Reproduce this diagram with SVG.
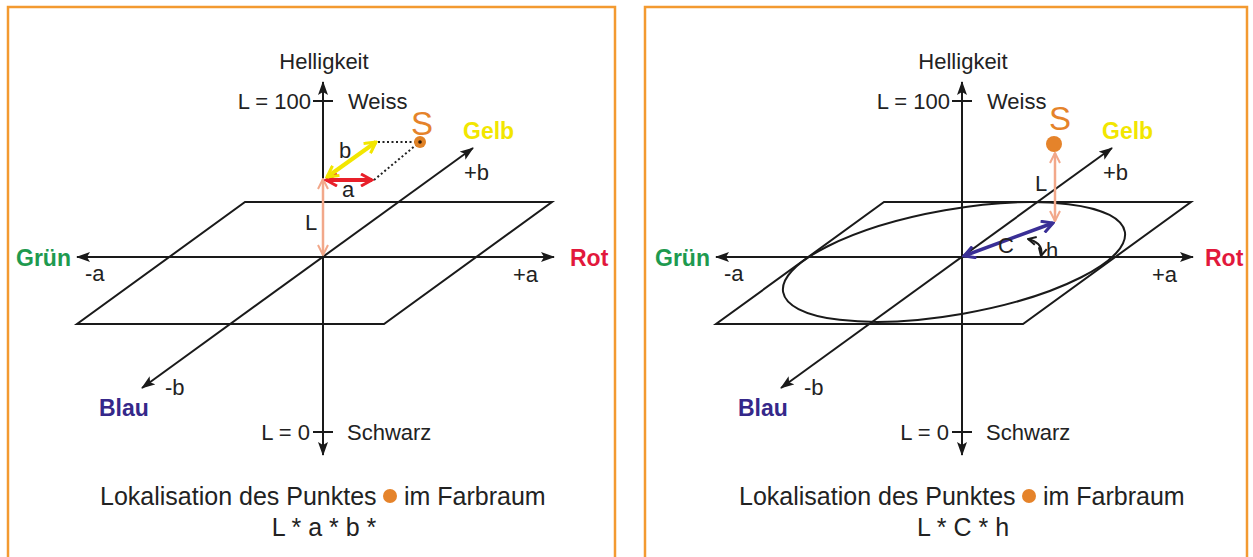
<svg xmlns="http://www.w3.org/2000/svg" width="1253" height="557" viewBox="0 0 1253 557">
<style>
.frame{fill:none;stroke:#f39a30;stroke-width:2.5}
.ax{fill:none;stroke:#1a1a1a;stroke-width:2}
.t{font-family:"Liberation Sans",Arial,sans-serif;font-size:22px;fill:#222}
.tb{font-family:"Liberation Sans",Arial,sans-serif;font-size:23px;font-weight:bold}
.cap{font-family:"Liberation Sans",Arial,sans-serif;font-size:25px;fill:#222}
.s{font-family:"Liberation Sans",Arial,sans-serif;font-size:33px;fill:#e5832a}
</style>
<defs>
<marker id="ah" viewBox="0 0 14 10" refX="13" refY="5" markerWidth="14" markerHeight="10" markerUnits="userSpaceOnUse" orient="auto-start-reverse"><path d="M0,0 L14,5 L0,10 L3,5 z" fill="#1a1a1a"/></marker>
<marker id="pk" viewBox="0 0 12 12" refX="11" refY="6" markerWidth="12" markerHeight="12" markerUnits="userSpaceOnUse" orient="auto-start-reverse"><path d="M1,1 L11,6 L1,11" fill="none" stroke="#f2a88a" stroke-width="2"/></marker>
<marker id="rd" viewBox="0 0 14 14" refX="12" refY="7" markerWidth="14" markerHeight="14" markerUnits="userSpaceOnUse" orient="auto-start-reverse"><path d="M1,1 L12,7 L1,13" fill="none" stroke="#e8202a" stroke-width="3"/></marker>
<marker id="yl" viewBox="0 0 14 14" refX="12" refY="7" markerWidth="14" markerHeight="14" markerUnits="userSpaceOnUse" orient="auto-start-reverse"><path d="M1,1 L12,7 L1,13" fill="none" stroke="#f2e600" stroke-width="3"/></marker>
<marker id="bl" viewBox="0 0 14 14" refX="12" refY="7" markerWidth="14" markerHeight="14" markerUnits="userSpaceOnUse" orient="auto-start-reverse"><path d="M1,1 L12,7 L1,13" fill="none" stroke="#3a2f96" stroke-width="3"/></marker>
<marker id="hk" viewBox="0 0 10 10" refX="9" refY="5" markerWidth="10" markerHeight="10" markerUnits="userSpaceOnUse" orient="auto-start-reverse"><path d="M1,1 L9,5 L1,9" fill="none" stroke="#1a1a1a" stroke-width="2"/></marker>
</defs>

<rect class="frame" x="8" y="7" width="607" height="580"/>
<rect class="frame" x="645" y="7" width="602" height="580"/>

<!-- LEFT PANEL -->
<g id="left-axes">
<polygon class="ax" points="245,202 552,202 384,324 77,324"/>
<line class="ax" x1="323" y1="455" x2="323" y2="82" marker-end="url(#ah)" marker-start="url(#ah)"/>
<line class="ax" x1="77" y1="257" x2="554" y2="257" marker-end="url(#ah)" marker-start="url(#ah)"/>
<line class="ax" x1="142" y1="388" x2="473" y2="148" marker-start="url(#ah)" marker-end="url(#ah)"/>
<line class="ax" x1="313" y1="101" x2="333" y2="101"/>
<line class="ax" x1="313" y1="432" x2="333" y2="432"/>
</g>
<g id="left-vectors">
<line x1="323" y1="255" x2="323" y2="179" stroke="#f2a88a" stroke-width="2.5" marker-start="url(#pk)" marker-end="url(#pk)"/>
<line x1="326" y1="180" x2="372" y2="180" stroke="#e8202a" stroke-width="4" marker-start="url(#rd)" marker-end="url(#rd)"/>
<line x1="327" y1="177" x2="376" y2="142" stroke="#f2e600" stroke-width="4" marker-start="url(#yl)" marker-end="url(#yl)"/>
<line x1="378" y1="142" x2="416" y2="142" stroke="#222" stroke-width="2" stroke-dasharray="2,2.5"/>
<line x1="374" y1="180" x2="416" y2="145" stroke="#222" stroke-width="2" stroke-dasharray="2,2.5"/>
<circle cx="420" cy="142" r="6" fill="#e08226"/>
<circle cx="420" cy="142" r="1.8" fill="#2a1a0a"/>
</g>
<g id="left-labels">
<text class="t" x="324" y="69" text-anchor="middle">Helligkeit</text>
<text class="t" x="311" y="109" text-anchor="end">L = 100</text>
<text class="t" x="348" y="109">Weiss</text>
<text class="s" x="411" y="135">S</text>
<text class="tb" x="463" y="139" fill="#f2e600">Gelb</text>
<text class="t" x="464" y="180">+b</text>
<text class="t" x="339" y="158">b</text>
<text class="t" x="342" y="197">a</text>
<text class="t" x="305" y="230">L</text>
<text class="tb" x="16" y="266" fill="#1e9a4f">Grün</text>
<text class="t" x="85" y="281">-a</text>
<text class="t" x="513" y="282">+a</text>
<text class="tb" x="570" y="266" fill="#e2183c">Rot</text>
<text class="t" x="165" y="395">-b</text>
<text class="tb" x="99" y="416" fill="#35288a">Blau</text>
<text class="t" x="310" y="440" text-anchor="end">L = 0</text>
<text class="t" x="347" y="440">Schwarz</text>
<text class="cap" x="100" y="505">Lokalisation des Punktes</text>
<circle cx="390" cy="496" r="7" fill="#e5832a"/>
<text class="cap" x="404" y="505">im Farbraum</text>
<text class="cap" x="324" y="536" text-anchor="middle">L * a * b *</text>
</g>

<!-- RIGHT PANEL -->
<g id="right-axes">
<polygon class="ax" points="884,202 1191,202 1023,324 716,324"/>
<ellipse class="ax" cx="954" cy="262" rx="173.5" ry="52.5" transform="rotate(-10 954 262)"/>
<line class="ax" x1="962" y1="455" x2="962" y2="82" marker-end="url(#ah)" marker-start="url(#ah)"/>
<line class="ax" x1="716" y1="257" x2="1193" y2="257" marker-end="url(#ah)" marker-start="url(#ah)"/>
<line class="ax" x1="781" y1="388" x2="1112" y2="148" marker-start="url(#ah)" marker-end="url(#ah)"/>
<line class="ax" x1="952" y1="101" x2="972" y2="101"/>
<line class="ax" x1="952" y1="432" x2="972" y2="432"/>
</g>
<g id="right-vectors">
<line x1="964" y1="256" x2="1053" y2="223" stroke="#3a2f96" stroke-width="3.5" marker-start="url(#bl)" marker-end="url(#bl)"/>
<line x1="1055" y1="221" x2="1055" y2="153" stroke="#f2a88a" stroke-width="2.5" marker-start="url(#pk)" marker-end="url(#pk)"/>
<circle cx="1054" cy="144" r="8" fill="#e5832a"/>
<path d="M1028,239 Q1044,243 1041,256" fill="none" stroke="#1a1a1a" stroke-width="2" marker-start="url(#hk)" marker-end="url(#hk)"/>
</g>
<g id="right-labels">
<text class="t" x="963" y="69" text-anchor="middle">Helligkeit</text>
<text class="t" x="950" y="109" text-anchor="end">L = 100</text>
<text class="t" x="987" y="109">Weiss</text>
<text class="s" x="1049" y="130">S</text>
<text class="tb" x="1102" y="139" fill="#f2e600">Gelb</text>
<text class="t" x="1103" y="180">+b</text>
<text class="t" x="1035" y="191">L</text>
<text class="t" x="998" y="253">C</text>
<text class="t" x="1046" y="258">h</text>
<text class="tb" x="655" y="266" fill="#1e9a4f">Grün</text>
<text class="t" x="724" y="281">-a</text>
<text class="t" x="1152" y="282">+a</text>
<text class="tb" x="1205" y="266" fill="#e2183c">Rot</text>
<text class="t" x="804" y="395">-b</text>
<text class="tb" x="738" y="416" fill="#35288a">Blau</text>
<text class="t" x="949" y="440" text-anchor="end">L = 0</text>
<text class="t" x="986" y="440">Schwarz</text>
<text class="cap" x="739" y="505">Lokalisation des Punktes</text>
<circle cx="1029" cy="496" r="7" fill="#e5832a"/>
<text class="cap" x="1043" y="505">im Farbraum</text>
<text class="cap" x="963" y="536" text-anchor="middle">L * C * h</text>
</g>
</svg>
